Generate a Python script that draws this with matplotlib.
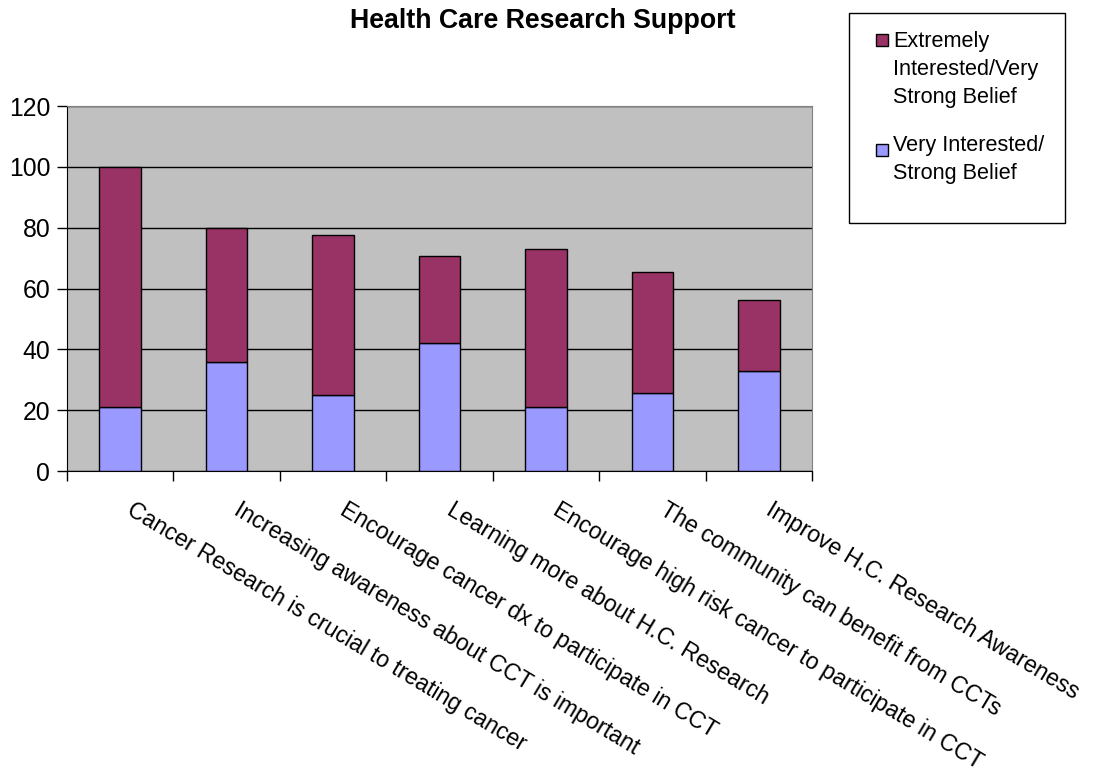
import matplotlib.pyplot as plt
import matplotlib.transforms as mtransforms
from matplotlib.patches import Rectangle
import numpy as np

plt.rcParams['font.family'] = ['Liberation Sans', 'DejaVu Sans']

# Survey statements and response counts
categories = [
    "Cancer Research is crucial to treating cancer",
    "Increasing awareness about CCT is important",
    "Encourage cancer dx to participate in CCT",
    "Learning more about H.C. Research",
    "Encourage high risk cancer to participate in CCT",
    "The community can benefit from CCTs",
    "Improve H.C. Research Awareness",
]
very_interested = [21, 36, 25, 42, 21, 25.5, 33]
extremely_interested = [79, 44, 52.5, 28.7, 52, 40, 23.3]

series_names = ["Extremely\nInterested/Very\nStrong Belief",
                "Very Interested/\nStrong Belief"]
maroon = "#993366"
lilac = "#9999FF"

fig = plt.figure(figsize=(10.94, 7.78), dpi=100)
ax = fig.add_axes([67 / 1094, 1 - 471 / 778, 745 / 1094, 365 / 778])
ax.set_facecolor("#C0C0C0")

x = np.arange(len(categories))
ax.bar(x, very_interested, width=0.39, color=lilac, edgecolor="black",
       linewidth=1, zorder=3)
ax.bar(x, extremely_interested, width=0.39, bottom=very_interested,
       color=maroon, edgecolor="black", linewidth=1, zorder=3)

ax.set_xlim(-0.5, len(categories) - 0.5)
ax.set_ylim(0, 120)
ax.set_yticks(range(0, 121, 20))
ax.yaxis.grid(True, color="black", linewidth=1, zorder=1)
ax.tick_params(axis="y", labelsize=17.8, length=7, width=1, pad=5,
               color="black")

# category boundaries get the tick marks, labels sit at the centres
ax.set_xticks(np.arange(-0.5, len(categories), 1.0))
ax.set_xticklabels([])
ax.tick_params(axis="x", which="major", length=7, width=1, color="black")
ax.set_xticks(x, minor=True)
ax.set_xticklabels(categories, minor=True, rotation=-31, ha="left",
                   va="top", rotation_mode="anchor", fontsize=16.7)
ax.tick_params(axis="x", which="minor", length=0, pad=20)
offset = mtransforms.ScaledTranslation(0.15, 0, fig.dpi_scale_trans)
for lbl in ax.get_xticklabels(minor=True):
    lbl.set_transform(lbl.get_transform() + offset)

for side in ["top", "right"]:
    ax.spines[side].set_color("#808080")
for side in ["left", "bottom"]:
    ax.spines[side].set_color("black")

fig.text(543 / 1094, 1 - 21 / 778, "Health Care Research Support",
         ha="center", va="center", fontsize=19.3, fontweight="bold")

# legend box
W, H = 1094, 778
fig.patches.append(Rectangle((849 / W, 1 - 223 / H), 216 / W, 210 / H,
                             transform=fig.transFigure, facecolor="white",
                             edgecolor="black", linewidth=1))
for color, name, ytop, ysq in [(maroon, series_names[0], 31, 34),
                               (lilac, series_names[1], 135, 144)]:
    fig.patches.append(Rectangle((876 / W, 1 - (ysq + 12) / H), 12 / W, 12 / H,
                                 transform=fig.transFigure, facecolor=color,
                                 edgecolor="black", linewidth=1))
    fig.text(893 / W, 1 - ytop / H, name, ha="left", va="top",
             fontsize=15.6, linespacing=1.43)

fig.savefig("out.png", dpi=100)
